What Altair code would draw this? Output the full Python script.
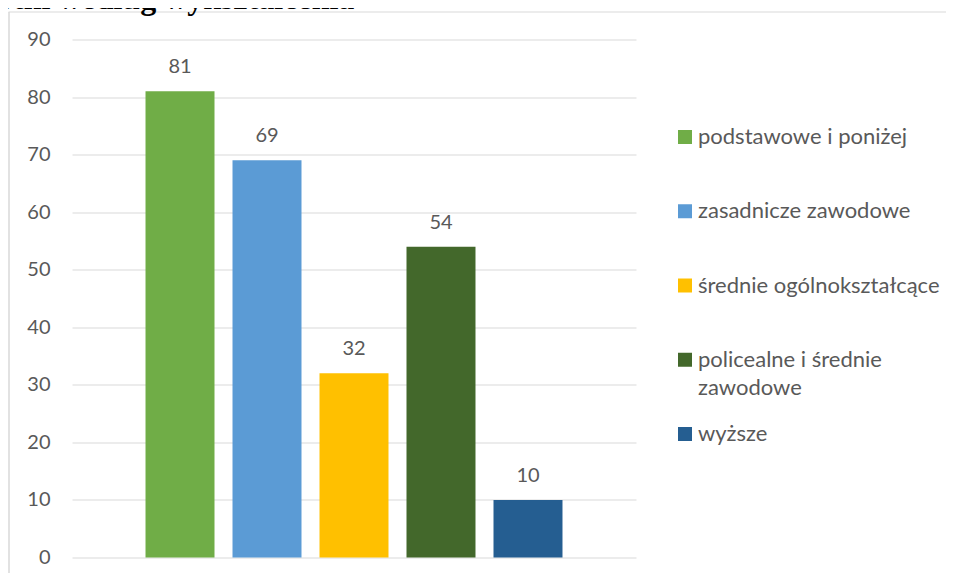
import altair as alt
import pandas as pd

# --- data ---
categories = [
    "podstawowe i poniżej",
    "zasadnicze zawodowe",
    "średnie ogólnokształcące",
    "policealne i średnie zawodowe",
    "wyższe",
]
legend_labels = [
    "podstawowe i poniżej",
    "zasadnicze zawodowe",
    "średnie ogólnokształcące",
    "policealne i średnie\nzawodowe",
    "wyższe",
]
values = [81, 69, 32, 54, 10]
colors = ["#70AD47", "#5B9BD5", "#FFC000", "#43682B", "#255E91"]
y_ticks = [0, 10, 20, 30, 40, 50, 60, 70, 80, 90]
title_text = ["otni według wykształcenia"]

df = pd.DataFrame({"kategoria": categories, "wartosc": values, "etykieta": legend_labels})

W, H = 564, 518
TXT = "#595959"
FONT = "Lato"

color_enc = alt.Color(
    "kategoria:N",
    sort=categories,
    scale=alt.Scale(domain=categories, range=colors),
    legend=None,
)

x_enc = alt.X(
    "kategoria:N",
    sort=categories,
    scale=alt.Scale(paddingInner=0.207, paddingOuter=0.845),
    axis=None,
)
y_enc = alt.Y(
    "wartosc:Q",
    scale=alt.Scale(domain=[0, 90], nice=False, zero=True),
    axis=alt.Axis(
        values=y_ticks,
        title=None,
        grid=True,
        gridColor="#D9D9D9",
        gridWidth=1,
        domain=False,
        ticks=False,
        tickSize=0,
        labelPadding=22,
        labelFont=FONT,
        labelFontSize=20,
        labelColor=TXT,
    ),
)

base = alt.Chart(df)

bars = base.mark_bar().encode(x=x_enc, y=y_enc, color=color_enc)

labels = base.mark_text(
    dy=-18, baseline="alphabetic", font=FONT, fontSize=20, color=TXT
).encode(x=x_enc, y=alt.Y("wartosc:Q"), text=alt.Text("wartosc:Q"))

main = alt.layer(bars, labels)

# legend drawn from the same data, placed with its own point scale
leg_y = alt.Y(
    "kategoria:N",
    sort=categories,
    scale=alt.Scale(range=[97.5, 394.5], padding=0),
    axis=None,
)
leg_sym = base.mark_square(size=196, opacity=1).encode(
    x=alt.value(613), y=leg_y, color=color_enc
)
leg_txt = base.mark_text(
    align="left",
    baseline="middle",
    font=FONT,
    fontSize=22,
    color=TXT,
    lineBreak="\n",
    lineHeight=28,
).encode(x=alt.value(626), y=leg_y, text="etykieta:N")
legend = alt.layer(leg_sym, leg_txt)

one = pd.DataFrame({"t": title_text})

frame_top = alt.Chart(one).mark_rule(color="#D9D9D9", strokeWidth=1).encode(
    x=alt.value(-63.5), x2=alt.value(900), y=alt.value(-27.5)
)
frame_left = alt.Chart(one).mark_rule(color="#D9D9D9", strokeWidth=1.5).encode(
    x=alt.value(-63), y=alt.value(-27.5), y2=alt.value(700)
)

title = alt.Chart(one).mark_text(
    align="left",
    baseline="alphabetic",
    font="Liberation Serif",
    fontSize=32,
    fontWeight="bold",
    color="black",
).encode(x=alt.value(-75), y=alt.value(-31), text="t:N")

chart = (
    alt.layer(frame_top, frame_left, main, legend, title)
    .resolve_scale(y="independent")
    .properties(
        width=W,
        height=H,
        background="white",
        autosize=alt.AutoSizeParams(type="none"),
        padding={"left": 64, "top": 31.5, "right": 310, "bottom": 15.5},
    )
    .configure_view(strokeWidth=0, stroke="transparent")
)

chart.save("out.html", embed_options={"renderer": "svg", "actions": False})
